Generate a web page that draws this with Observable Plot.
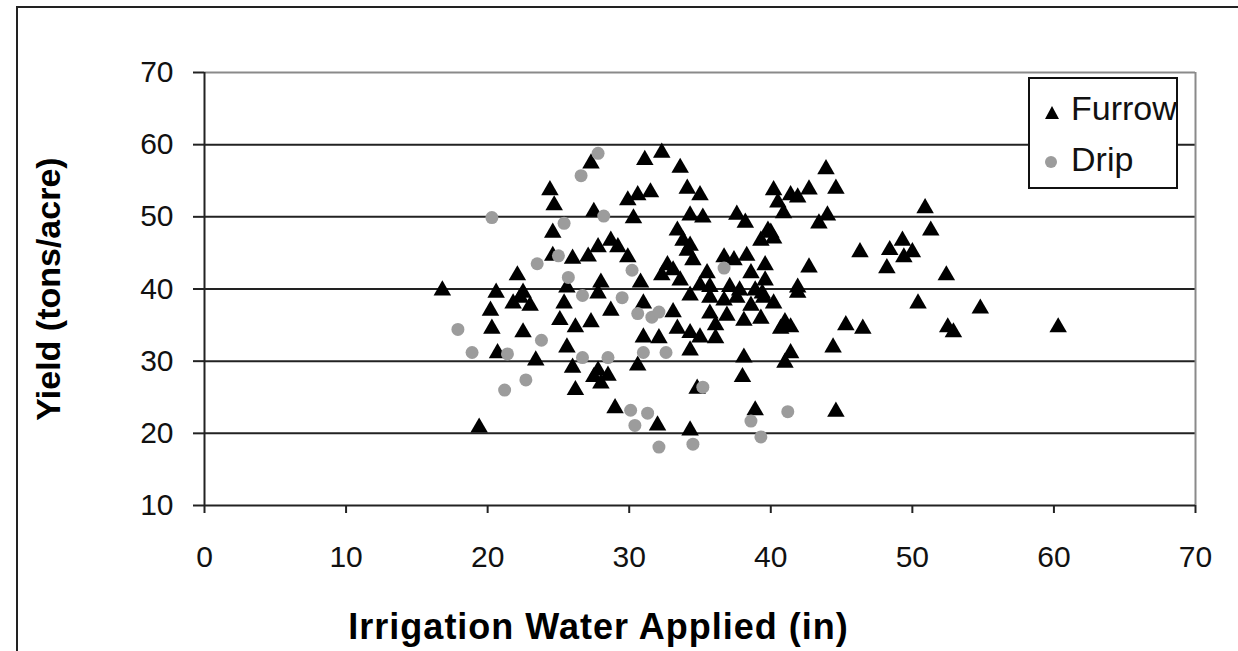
<!DOCTYPE html>
<html>
<head>
<meta charset="utf-8">
<script src="https://cdn.jsdelivr.net/npm/d3@7"></script>
<script src="https://cdn.jsdelivr.net/npm/@observablehq/plot@0.6"></script>
<style>
  html, body { margin: 0; padding: 0; background: white; }
  #wrap { position: relative; width: 1238px; height: 651px; overflow: hidden; }
  #frame { position: absolute; left: 16px; top: 6px; width: 1300px; height: 700px;
           border-left: 2px solid #222; border-top: 2px solid #222; pointer-events: none; }
  #legend { position: absolute; left: 0; top: 0; pointer-events: none; }
  .xlab text { letter-spacing: 1px; }
</style>
</head>
<body>
<div id="wrap"><div id="chart"></div><div id="frame"></div></div>
<script>
// ---- data ----
const xTicks = [0, 10, 20, 30, 40, 50, 60, 70];
const yTicks = [10, 20, 30, 40, 50, 60, 70];
const gridY = [20, 30, 40, 50, 60];
const seriesNames = ["Furrow", "Drip"];
const xLabel = "Irrigation Water Applied (in)";
const yLabel = "Yield (tons/acre)";

const furrowX = [
  27.3,24.4,24.7,27.5,24.6,24.6,26.0,27.1,27.8,22.1,16.8,20.6,22.5,25.6,
  32.3,31.1,33.6,30.6,31.5,29.9,34.1,35.0,30.3,34.3,35.2,37.6,38.2,33.4,33.8,34.3,39.3,39.8,28.7,29.2,29.9,34.1,34.5,32.7,33.1,32.3,36.7,37.4,38.3,39.6,38.6,30.8,28.0,35.5,35.7,37.1,
  43.9,44.6,40.2,41.4,41.9,42.7,40.5,40.9,44.0,43.4,40.0,40.2,50.9,51.3,46.3,48.4,49.3,50.0,49.4,48.2,42.7,41.9,39.4,
  52.4,
  22.3,21.8,23.0,20.2,20.3,22.5,20.7,23.4,25.6,25.1,26.2,27.3,26.0,26.2,19.4,25.4,27.5,
  27.8,28.7,31.0,33.1,31.0,32.1,33.4,34.3,35.0,36.1,34.3,35.7,35.7,37.6,39.5,38.1,39.3,30.6,27.8,28.5,28.0,38.1,38.0,34.8,29.0,32.0,34.3,38.9,
  41.9,40.2,41.0,40.7,41.4,45.3,46.5,44.4,41.4,41.0,50.4,44.6,
  54.8,52.5,52.9,60.3,
  36.7,36.9,36.1,38.6,37.8,38.9,39.6,35.0,33.6,34.3
];
const furrowY = [
  57.4,53.7,51.6,50.7,47.8,44.6,44.2,44.5,45.8,41.9,39.8,39.5,39.5,40.2,
  58.9,57.9,56.8,53.0,53.4,52.3,53.9,53.0,49.8,50.2,49.9,50.3,49.2,48.1,46.7,46.0,46.7,48.1,46.7,45.8,44.4,45.3,44.0,43.3,42.6,41.9,44.4,44.0,44.6,43.3,42.2,40.9,40.9,42.2,40.3,40.3,
  56.6,53.9,53.7,53.0,52.7,53.8,52.0,50.5,50.2,49.1,47.8,47.0,51.2,48.1,45.1,45.4,46.7,45.1,44.4,42.9,43.0,40.2,39.4,
  41.9,
  38.8,38.0,37.7,37.0,34.5,34.0,31.1,30.1,31.9,35.7,34.7,35.4,29.1,26.0,20.8,38.0,27.8,
  39.4,37.0,38.0,36.8,33.3,33.2,34.5,33.9,33.3,33.2,31.5,36.6,38.8,38.8,38.8,35.6,35.9,29.4,28.7,28.0,26.9,30.5,27.8,26.2,23.5,21.1,20.4,23.2,
  39.5,38.0,35.4,34.5,34.7,35.0,34.5,31.9,31.1,29.8,38.0,23.0,
  37.3,34.7,34.0,34.7,
  38.4,36.3,35.0,37.7,39.8,39.8,41.2,40.5,41.2,39.1
];
const dripX = [
  27.8,26.6,20.3,25.4,23.5,25.0,25.7,26.7,28.2,30.2,36.7,29.5,17.9,18.9,21.4,23.8,22.7,21.2,
  26.7,30.6,31.6,32.1,31.0,32.6,28.5,35.2,30.1,31.3,30.4,32.1,34.5,38.6,39.3,41.2
];
const dripY = [
  58.8,55.7,49.9,49.1,43.5,44.6,41.6,39.1,50.1,42.6,42.9,38.8,34.4,31.2,31.0,32.9,27.4,26.0,
  30.5,36.6,36.1,36.8,31.2,31.2,30.5,26.4,23.2,22.8,21.1,18.1,18.5,21.7,19.5,23.0
];

const furrow = furrowX.map((x, i) => ({x, y: furrowY[i]}));
const drip = dripX.map((x, i) => ({x, y: dripY[i]}));

const tickFont = "'Liberation Sans', Arial, sans-serif";
const labelFont = "'Liberation Sans', Arial, sans-serif";

const chart = Plot.plot({
  width: 1238,
  height: 651,
  marginLeft: 204,
  marginRight: 43,
  marginTop: 72,
  marginBottom: 146,
  x: {domain: [0, 70]},
  y: {domain: [10, 70]},
  style: {background: "white", fontFamily: labelFont, overflow: "visible"},
  marks: [
    Plot.ruleY(gridY, {stroke: "#222", strokeWidth: 2}),
    Plot.ruleY([70], {stroke: "#8a8a8a", strokeWidth: 2}),
    Plot.ruleX([70], {stroke: "#8a8a8a", strokeWidth: 2}),
    Plot.ruleX([0], {stroke: "#222", strokeWidth: 2}),
    Plot.ruleY([10], {stroke: "#222", strokeWidth: 2}),
    Plot.axisX({ticks: xTicks, tickSize: 8, tickFormat: () => "", label: null, stroke: "#222", strokeWidth: 2}),
    Plot.axisY({ticks: yTicks, tickSize: 11, tickFormat: () => "", label: null, stroke: "#222", strokeWidth: 2}),
    Plot.text(xTicks, {x: d => d, text: d => String(d), frameAnchor: "bottom", dy: 52,
      lineAnchor: "middle", fontSize: 30, fontFamily: tickFont, fill: "#111"}),
    Plot.text(yTicks, {y: d => d, text: d => String(d), frameAnchor: "left", dx: -31,
      textAnchor: "end", lineAnchor: "middle", fontSize: 30, fontFamily: tickFont, fill: "#111"}),
    Plot.text([xLabel], {frameAnchor: "bottom-left", dx: 394, dy: 122, textAnchor: "middle",
      lineAnchor: "middle", fontSize: 36, fontWeight: "bold", fontFamily: labelFont, fill: "#000",
      className: "xlab"}),
    Plot.text([yLabel], {frameAnchor: "left", dx: -155, rotate: -90, textAnchor: "middle",
      lineAnchor: "middle", fontSize: 34, fontWeight: "bold", fontFamily: labelFont, fill: "#000"}),
    Plot.dot(furrow, {x: "x", y: "y", symbol: "triangle", r: 6.5, fill: "#000", stroke: "none"}),
    Plot.dot(drip, {x: "x", y: "y", symbol: "circle", r: 6.5, fill: "#9c9c9c", stroke: "none"})
  ]
});
document.getElementById("chart").appendChild(chart);

// ---- legend overlay ----
const ns = "http://www.w3.org/2000/svg";
const leg = document.createElementNS(ns, "svg");
leg.setAttribute("id", "legend");
leg.setAttribute("width", 1238);
leg.setAttribute("height", 651);
leg.innerHTML = `
  <rect x="1029" y="78" width="148" height="110" fill="white" stroke="#111" stroke-width="2"/>
  <path d="M1045,119 L1059,119 L1052,106 Z" fill="#000"/>
  <circle cx="1051" cy="162" r="6" fill="#9c9c9c"/>
  <text x="1071" y="120" font-family="${labelFont.replace(/'/g, "&quot;")}" font-size="34" fill="#111">${seriesNames[0]}</text>
  <text x="1071" y="171" font-family="${labelFont.replace(/'/g, "&quot;")}" font-size="34" fill="#111">${seriesNames[1]}</text>
`;
document.getElementById("wrap").appendChild(leg);
</script>
</body>
</html>
